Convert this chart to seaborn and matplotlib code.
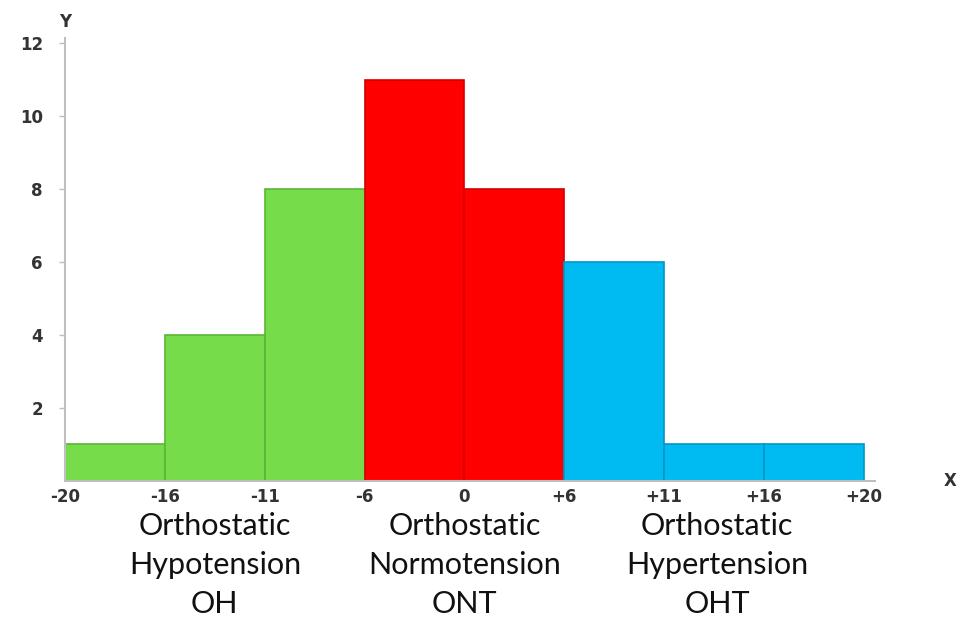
import pandas as pd
import matplotlib
matplotlib.use('Agg')
import matplotlib.pyplot as plt
import seaborn as sns

# data
bins = ['-20..-16', '-16..-11', '-11..-6', '-6..0', '0..+6', '+6..+11', '+11..+16', '+16..+20']
counts = [1, 4, 8, 11, 8, 6, 1, 1]
groups = ['OH', 'OH', 'OH', 'ONT', 'ONT', 'OHT', 'OHT', 'OHT']
edge_labels = ['-20', '-16', '-11', '-6', '0', '+6', '+11', '+16', '+20']
group_names = ['Orthostatic\nHypotension\nOH', 'Orthostatic\nNormotension\nONT',
               'Orthostatic\nHypertension\nOHT']
group_centers = [1.0, 3.5, 6.03]

group_colors = {'OH': '#76DC4A', 'ONT': '#FF0000', 'OHT': '#00BBF2'}
edge_colors = {'OH': '#5BB535', 'ONT': '#D40000', 'OHT': '#0097C8'}

df = pd.DataFrame({'bin': bins, 'count': counts, 'group': groups})
bar_colors = [group_colors[g] for g in groups]

sns.set_style('white')
plt.rcParams['font.family'] = ['DejaVu Sans']

fig = plt.figure(figsize=(9.57, 6.23), dpi=100)
ax = fig.add_axes([0.068, 0.228, 0.846, 0.711])

sns.barplot(data=df, x='bin', y='count', hue='bin', palette=bar_colors,
            width=1.0, legend=False, saturation=1, ax=ax)
for patch, g in zip(ax.patches, groups):
    patch.set_edgecolor(edge_colors[g])
    patch.set_linewidth(1.2)

ax.set_xlim(-0.5, 7.61)
ax.set_ylim(0, 12.14)

# 축 설정
ax.set_xticks([i - 0.5 for i in range(len(edge_labels))])
ax.set_xticklabels(edge_labels, fontsize=12, fontweight='bold', color='#333333')
ax.set_yticks([2, 4, 6, 8, 10, 12])
ax.set_yticklabels(['2', '4', '6', '8', '10', '12'], fontsize=12, fontweight='bold', color='#333333')
ax.tick_params(axis='x', length=0, pad=5)
ax.tick_params(axis='y', length=4, color='#BFBFBF', width=1, left=True, pad=12)
ax.set_xlabel('')
ax.set_ylabel('')

for side in ['top', 'right']:
    ax.spines[side].set_visible(False)
for side in ['left', 'bottom']:
    ax.spines[side].set_color('#BFBFBF')
    ax.spines[side].set_linewidth(1.5)

# 축 이름
fig.text(0.068, 0.965, 'Y', fontsize=12, fontweight='bold', color='#333333', ha='center', va='center')
fig.text(0.993, 0.228, 'X', fontsize=12, fontweight='bold', color='#333333', ha='center', va='center')

# 그룹 이름
for name, cx in zip(group_names, group_centers):
    ax.text(cx, -0.85, name, transform=ax.transData, ha='center', va='top',
            fontsize=22, family=['Lato', 'DejaVu Sans'], color='#111111', linespacing=1.47)

fig.savefig('out.png', dpi=100)
